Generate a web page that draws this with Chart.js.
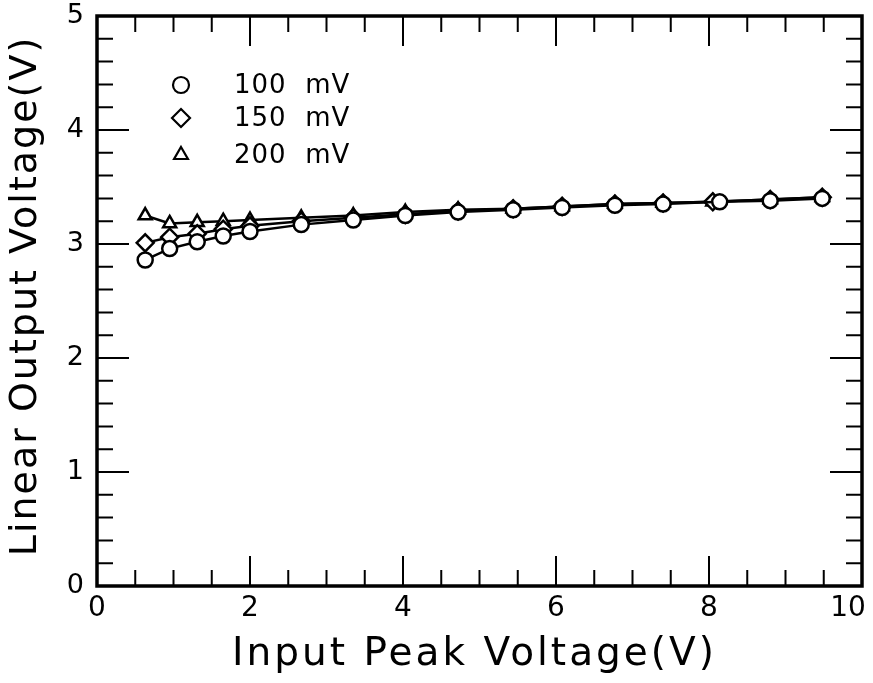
<!DOCTYPE html>
<html>
<head>
<meta charset="utf-8">
<script src="https://cdn.jsdelivr.net/npm/chart.js@4"></script>
<style>
  html, body { margin: 0; padding: 0; background: #fff; }
  #wrap { width: 873px; height: 683px; }
</style>
</head>
<body>
<div id="wrap"><canvas id="chart" width="873" height="683"></canvas></div>
<script>
// data
const x100 = [0.63, 0.95, 1.31, 1.65, 2.0, 2.67, 3.35, 4.03, 4.72, 5.44, 6.08, 6.77, 7.40, 8.14, 8.8, 9.48];
const y100 = [2.86, 2.96, 3.02, 3.07, 3.11, 3.17, 3.21, 3.25, 3.28, 3.30, 3.32, 3.34, 3.35, 3.37, 3.38, 3.40];
const x150 = [0.63, 0.95, 1.31, 1.65, 2.0, 2.67, 3.35, 4.03, 4.72, 5.44, 6.08, 6.77, 7.40, 8.05, 8.8, 9.48];
const y150 = [3.01, 3.06, 3.09, 3.13, 3.16, 3.20, 3.23, 3.26, 3.29, 3.31, 3.33, 3.35, 3.36, 3.37, 3.39, 3.41];
const x200 = [0.63, 0.95, 1.31, 1.65, 2.0, 2.67, 3.35, 4.03, 4.72, 5.44, 6.08, 6.77, 7.40, 8.05, 8.8, 9.48];
const y200 = [3.25, 3.18, 3.19, 3.20, 3.21, 3.23, 3.25, 3.28, 3.30, 3.31, 3.33, 3.35, 3.36, 3.37, 3.39, 3.41];

const seriesLabels = ["100  mV", "150  mV", "200  mV"];
const seriesStyles = ["circle", "rectRot", "triangle"];

const xTitle = "Input Peak Voltage(V)";
const yTitle = "Linear Output Voltage(V)";

const xMajor = [0, 2, 4, 6, 8, 10];
const xMinorStep = 0.5;
const yMajor = [0, 1, 2, 3, 4, 5];
const yMinorStep = 0.2;

const FONT = "'DejaVu Sans', sans-serif";

function pts(xs, ys) {
  return xs.map((x, i) => ({ x: x, y: ys[i] }));
}

function makeSet(label, data, style) {
  return {
    label: label,
    data: data,
    showLine: true,
    borderColor: "#000",
    borderWidth: 2.5,
    pointStyle: style,
    pointRadius: style === "rectRot" ? 8.5 : 7.5,
    pointBorderWidth: 2.5,
    pointBorderColor: "#000",
    pointBackgroundColor: "#fff",
    tension: 0,
  };
}

// frame, inward ticks on all four sides, axis titles and legend
const framePlugin = {
  id: "frame",
  beforeDatasetsDraw(chart) {
    const ctx = chart.ctx;
    const a = chart.chartArea;
    const xs = chart.scales.x;
    const ys = chart.scales.y;
    ctx.save();
    ctx.strokeStyle = "#000";
    ctx.lineWidth = 2;
    ctx.beginPath();
    for (let v = 0; v <= 10.001; v += xMinorStep) {
      const major = xMajor.some((m) => Math.abs(m - v) < 1e-6);
      const len = major ? 30 : 16;
      const px = xs.getPixelForValue(v);
      ctx.moveTo(px, a.bottom);
      ctx.lineTo(px, a.bottom - len);
      ctx.moveTo(px, a.top);
      ctx.lineTo(px, a.top + len);
    }
    for (let v = 0; v <= 5.001; v += yMinorStep) {
      const major = yMajor.some((m) => Math.abs(m - v) < 1e-6);
      const len = major ? 32 : 16;
      const py = ys.getPixelForValue(v);
      ctx.moveTo(a.left, py);
      ctx.lineTo(a.left + len, py);
      ctx.moveTo(a.right, py);
      ctx.lineTo(a.right - len, py);
    }
    ctx.stroke();
    ctx.lineWidth = 3.5;
    ctx.strokeRect(a.left, a.top, a.right - a.left, a.bottom - a.top);
    ctx.restore();
  },
  afterDraw(chart) {
    const ctx = chart.ctx;
    const a = chart.chartArea;
    ctx.save();
    ctx.fillStyle = "#000";
    ctx.textAlign = "center";
    ctx.textBaseline = "middle";
    // x title
    ctx.font = "39px " + FONT;
    ctx.letterSpacing = "3px";
    ctx.fillText(xTitle, (a.left + a.right) / 2 - 5, 655);
    // y title
    ctx.font = "38px " + FONT;
    ctx.letterSpacing = "2px";
    ctx.translate(26, (a.top + a.bottom) / 2 - 5);
    ctx.rotate(-Math.PI / 2);
    ctx.fillText(yTitle, 0, 0);
    ctx.restore();

    // legend inside the plot, top left
    const rows = [85, 118, 155];
    ctx.save();
    ctx.font = "26px " + FONT;
    ctx.letterSpacing = "1px";
    ctx.textBaseline = "middle";
    seriesLabels.forEach((lab, i) => {
      ctx.strokeStyle = "#000";
      ctx.fillStyle = "#fff";
      ctx.lineWidth = 2.2;
      Chart.helpers.drawPoint(ctx, {
        pointStyle: seriesStyles[i],
        radius: seriesStyles[i] === "rectRot" ? 9 : 8,
        borderWidth: 2.2,
        rotation: 0,
      }, 181, rows[i]);
      ctx.fillStyle = "#000";
      ctx.fillText(lab, 234, rows[i] + 1);
    });
    ctx.restore();
  },
};

const ctx = document.getElementById("chart").getContext("2d");
new Chart(ctx, {
  type: "scatter",
  data: {
    datasets: [
      makeSet(seriesLabels[0], pts(x100, y100), seriesStyles[0]),
      makeSet(seriesLabels[1], pts(x150, y150), seriesStyles[1]),
      makeSet(seriesLabels[2], pts(x200, y200), seriesStyles[2]),
    ],
  },
  options: {
    responsive: false,
    animation: false,
    layout: { padding: { top: 16, right: 11, left: 0, bottom: 0 } },
    plugins: { legend: { display: false }, tooltip: { enabled: false } },
    scales: {
      x: {
        type: "linear",
        min: 0,
        max: 10,
        ticks: {
          stepSize: 2,
          color: "#000",
          font: { family: FONT, size: 28 },
          padding: 6,
          maxRotation: 0,
          // keep the last label inside the canvas, as in the original
          callback: (v) => (v === 10 ? "10\u2002\u2002" : String(v)),
        },
        grid: { display: false, drawTicks: false },
        border: { display: false },
        title: { display: false },
        afterFit(scale) {
          scale.height = 97;
          scale.paddingLeft = 0;
          scale.paddingRight = 0;
        },
      },
      y: {
        type: "linear",
        min: 0,
        max: 5,
        ticks: { stepSize: 1, color: "#000", font: { family: FONT, size: 27 }, padding: 13 },
        grid: { display: false, drawTicks: false },
        border: { display: false },
        title: { display: false },
        afterFit(scale) {
          scale.width = 97;
          scale.paddingTop = 0;
          scale.paddingBottom = 0;
        },
      },
    },
  },
  plugins: [framePlugin],
});
</script>
</body>
</html>
